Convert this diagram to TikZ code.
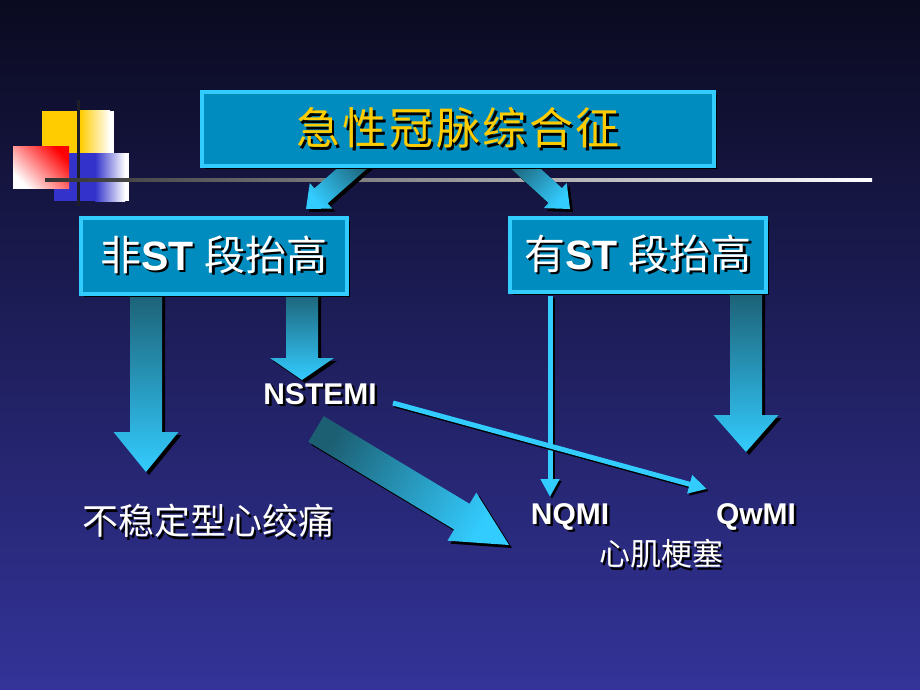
\documentclass[tikz,border=0pt]{standalone}
\usepackage{fontspec}
\setmainfont{Liberation Sans}
\newfontfamily\cjk{Noto Sans CJK SC}
\newfontfamily\cjktitle{Noto Sans CJK SC}[LetterSpace=6]
\usetikzlibrary{calc,shadows,arrows.meta}

\definecolor{bgtop}{RGB}{10,10,32}
\definecolor{bgbot}{RGB}{51,51,153}
\definecolor{boxfill}{RGB}{0,140,190}
\definecolor{boxline}{RGB}{51,204,255}
\definecolor{titlegold}{RGB}{255,204,0}
\definecolor{arrdark}{RGB}{28,95,115}
\definecolor{arrcyan}{RGB}{51,204,255}
\definecolor{decoyellow}{RGB}{255,204,0}
\definecolor{decoblue}{RGB}{51,51,204}
\definecolor{decored}{RGB}{255,0,0}
\definecolor{decoline}{RGB}{30,30,40}

% text with a hard black shadow
\newcommand\shtxt[2]{\leavevmode\rlap{\hspace{2.5pt}\raisebox{-2.5pt}{\color{black}#2}}\textcolor{#1}{#2}}

% block arrow: tail, tip, shaft half width, head half width, head length, shading angle
\newcommand\blockarr[6]{%
  \coordinate (#1-neck) at ($(#2)!#5!(#1)$);
  \path[blockarrow, shading angle=#6]
    ($(#1)!#3!90:(#2)$) -- ($(#1-neck)!#3!90:(#2)$) -- ($(#1-neck)!#4!90:(#2)$)
    -- (#2) -- ($(#1-neck)!#4!-90:(#2)$) -- ($(#1-neck)!#3!-90:(#2)$)
    -- ($(#1)!#3!-90:(#2)$) -- cycle;}

% thin arrow with its shadow
\newcommand\thinarr[2]{%
  \draw[thinline, draw=black, fill=black, transform canvas={shift={(2pt,-2pt)}}] (#1) -- (#2);
  \draw[thinline] (#1) -- (#2);}

\tikzset{
  hardshadow/.style={general shadow={fill=black, shadow xshift=3pt, shadow yshift=-3pt}},
  blockarrow/.style={hardshadow, top color=arrdark, bottom color=arrcyan},
  thinline/.style={line width=5pt, draw=arrcyan, fill=arrcyan, -{Triangle[length=18pt,width=18pt]}},
  titlebox/.style={draw=boxline, line width=4pt, fill=boxfill, hardshadow, inner sep=0pt,
    minimum width=512pt, minimum height=74pt, font=\fontsize{44}{50}\selectfont},
  stbox/.style={draw=boxline, line width=4pt, fill=boxfill, hardshadow, inner sep=0pt,
    font=\fontsize{41}{46}\selectfont},
  lbl/.style={inner sep=0pt, font=\fontsize{30}{36}\selectfont}
}

\begin{document}
\begin{tikzpicture}[x=1pt,y=-1pt]
  \useasboundingbox (0,0) rectangle (920,690);
  \fill[top color=bgtop, bottom color=bgbot] (0,0) rectangle (920,690);

  % corner decoration
  \fill[decoyellow] (42,111) rectangle (81,153);
  \shade[left color=decoyellow, right color=white] (80,111) rectangle (110,153);
  \fill[white] (109.5,111) rectangle (114,153);
  \fill[decoblue] (54,153) rectangle (96,201);
  \shade[left color=decoblue, right color=white] (95,153) rectangle (125,201);
  \fill[white] (124.5,153) rectangle (129,201);
  \shade[top color=decored, bottom color=white, shading angle=-45] (13,146) rectangle (69,188);
  \draw[decoline, line width=3pt] (78,100) -- (78,206);
  \shade[left color=black!80, middle color=black!25, right color=white] (45,178.5) rectangle (872,181.5);

  % arrows from the title
  \coordinate (tl-tail) at (364,158); \coordinate (tl-tip) at (306,209);
  \coordinate (tr-tail) at (514,158); \coordinate (tr-tip) at (570,209);
  \blockarr{tl-tail}{tl-tip}{10pt}{17pt}{20pt}{-49}
  \blockarr{tr-tail}{tr-tip}{10pt}{17pt}{20pt}{47}

  \node[titlebox] (acs) at (458,129) {\shtxt{titlegold}{\cjktitle 急性冠脉综合征}};

  % big arrows
  \coordinate (ua-tail) at (146,290); \coordinate (ua-tip) at (146,472);
  \coordinate (ns-tail) at (302,290); \coordinate (ns-tip) at (302,380);
  \coordinate (qw-tail) at (746,290); \coordinate (qw-tip) at (746,452);
  \coordinate (mi-tail) at (316,429); \coordinate (mi-tip) at (509,545);
  \blockarr{ua-tail}{ua-tip}{16pt}{32.5pt}{40pt}{0}
  \blockarr{ns-tail}{ns-tip}{16pt}{32pt}{22pt}{0}
  \blockarr{qw-tail}{qw-tip}{16pt}{32.5pt}{37pt}{0}
  \blockarr{mi-tail}{mi-tip}{15pt}{28pt}{55pt}{59}

  \node[stbox, minimum width=266pt, minimum height=76pt] (nonst) at (214,256)
    {\shtxt{white}{{\cjk 非}\textbf{ST} {\cjk 段抬高}}};
  \node[stbox, minimum width=256pt, minimum height=74pt] (st) at (638,255)
    {\shtxt{white}{{\cjk 有}\textbf{ST} {\cjk 段抬高}}};

  % thin arrows
  \coordinate (nq-top) at (550,296); \coordinate (nq-tip) at (550,497);
  \coordinate (ns-from) at (393,403); \coordinate (qw-to) at (707,489);
  \thinarr{nq-top}{nq-tip}
  \thinarr{ns-from}{qw-to}

  % labels
  \node[lbl] (nstemi) at (320,395) {\shtxt{white}{\textbf{NSTEMI}}};
  \node[lbl, font=\fontsize{36}{42}\selectfont] (ua) at (208,522) {\shtxt{white}{\cjk 不稳定型心绞痛}};
  \node[lbl] (nqmi) at (570,518) {\shtxt{white}{\textbf{NQMI}}};
  \node[lbl] (qwmi) at (756,518) {\shtxt{white}{\textbf{QwMI}}};
  \node[lbl, font=\fontsize{31}{36}\selectfont] (mi) at (661,555) {\shtxt{white}{\cjk 心肌梗塞}};
\end{tikzpicture}
\end{document}
